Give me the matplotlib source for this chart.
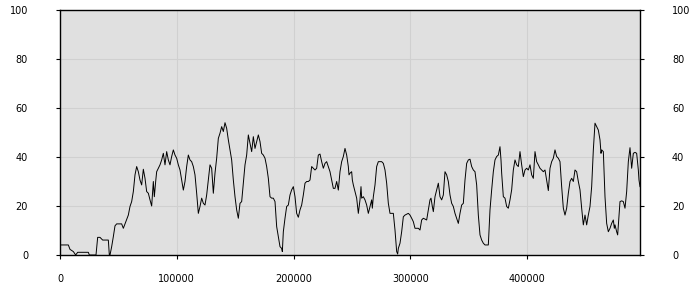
import numpy as np
import matplotlib
matplotlib.use("Agg")
import matplotlib.pyplot as plt

# positions (bp) and values
pos = [0, 7135, 8562, 11416, 13414, 15126, 24259, 25115, 30823, 32250, 34248, 36530,
       41383, 42239, 42810, 44237, 45664, 47091, 48518, 52799, 54226, 55653, 57080,
       58507, 59934, 61361, 62788, 64215, 65642, 67069, 68496, 69923, 71350, 72777,
       74204, 75631, 77058, 78485, 79912, 80768, 81910, 82766, 84193, 85620, 87047,
       88474, 89901, 91328, 92755, 94182, 95609, 97036, 98463, 99890, 101317, 102744,
       104171, 105598, 107025, 108452, 109879, 111306, 112733, 114160, 115587, 117014,
       118441, 119868, 121295, 122722, 124149,
       125576, 127003, 128430, 129857, 131284, 132711, 134138, 135565, 136992, 138419,
       139846, 141273, 142700, 144127, 145554, 146981, 148408, 149835, 151262, 152689,
       154116, 155543, 156970, 158397, 159824, 161251, 162678, 164105, 165532, 166959,
       168386, 169813, 171240, 172667, 174094, 175521, 176948, 178375, 179802, 181229,
       182656, 184083, 185510, 186937, 188364, 189791, 190362, 191218, 192645, 194072,
       195499, 196926, 198353, 199780, 201207, 202634, 204061, 205488, 206915, 208342,
       209769, 211196, 212623, 214050, 215477, 216904, 218331, 219758, 221185, 222612,
       224039, 225466, 226893, 228320, 229747, 231174, 232601, 234028,
       235455, 236882, 238309, 239736, 241163, 242590, 244017, 245444, 246871, 247442,
       248298, 249725, 250296, 251152, 252579, 254006, 255433, 256860, 257716, 258287,
       259714, 261141, 262568, 263995, 265422, 266849, 267420, 268276, 269703, 271130,
       272557, 275411, 276838, 278265, 279692, 281119, 282546, 285400, 286827, 288254,
       289110, 289681, 291108, 292535, 293962, 295389, 298243, 299670, 301097, 302524,
       303951, 306805, 308232, 309659, 311086, 313940, 315367, 316794, 317650, 318792,
       319648, 321075, 322502, 323929, 325356, 326783, 328210, 329637, 331064, 332491,
       333918, 335345, 336772, 338199, 339626, 341053, 342480, 343907, 345334, 346761,
       348188, 349615, 351042, 352469, 353896,
       355323, 356750, 358177, 359604, 361031, 362458, 363885, 366739, 367310, 368166,
       369593, 371020, 372447, 373874, 375301, 376728, 377584, 378155, 379582, 381009,
       382436, 383863, 385290, 386717, 388144, 389571, 390998, 392425, 393852, 395279,
       396706, 398133, 399560, 400987, 402414, 403841, 405268, 406695, 408122, 409549,
       410976, 412403, 413830, 415257, 416684, 418111, 419538, 420965, 422392, 423819,
       425246, 426673, 428100, 429527, 430954, 432381, 433808, 435235, 436662, 438089,
       439516, 440943, 442370, 443797, 445224, 446651, 448078, 449505, 450932, 452359,
       453786, 455213, 456640, 458067, 459494, 460921, 462348, 463204, 463775, 465202,
       466629, 468056, 469483, 470910, 472337, 473764, 474620, 475191, 476618, 477474,
       478616, 479472, 480899, 482326, 483753, 485180, 486607, 488034, 489461, 490888,
       492315, 493742, 495169, 495740, 496596]

vals = [4.1, 4.1, 2.3, 1.4, 0.0, 1.1, 1.1, 0.0, 0.0, 7.2, 7.2, 6.1,
        6.1, 0.0, 0.0, 3.4, 7.5, 11.9, 12.7, 12.7, 10.9, 12.7, 14.6,
        16.3, 19.8, 21.8, 25.9, 32.7, 36.1, 34.0, 30.6, 28.6, 35.0, 31.3,
        25.9, 25.2, 22.5, 20.0, 30.0, 23.8, 30.0, 34.0, 35.4, 36.8, 38.8,
        41.5, 36.8, 42.2, 38.8, 36.8, 40.2, 42.9, 40.8, 39.5, 36.8, 34.7,
        30.6, 26.5, 30.0, 36.1, 40.8, 38.8, 38.1, 36.1, 32.7, 25.2,
        17.0, 19.8, 23.2, 21.1, 20.4,
        24.5, 30.6, 36.8, 35.4, 25.2, 33.4, 39.5, 47.6, 49.7, 52.4,
        50.4, 54.0, 51.7, 47.0, 42.9, 38.8, 30.6, 23.8, 18.4, 15.0,
        21.1, 21.8, 29.3, 36.8, 40.8, 49.0, 45.6, 42.2, 48.3, 43.5,
        46.3, 49.0, 46.3, 41.5, 40.8, 39.5, 36.1, 31.3, 23.8, 23.2,
        23.2, 21.8, 11.6, 7.5, 3.4, 2.7, 1.4, 9.5, 15.0, 19.8,
        20.4, 24.5, 26.6, 27.9, 23.8, 17.0, 15.4, 18.4, 20.4, 24.5,
        29.3, 30.0, 30.0, 30.6, 36.1, 35.4, 34.7, 35.4, 40.8, 41.2,
        38.1, 35.4, 37.4, 38.1, 36.1, 34.0, 30.6, 27.2,
        27.2, 30.0, 26.5, 34.0, 38.1, 40.2, 43.5, 40.8, 36.1, 32.7,
        33.4, 34.0, 30.6, 28.6, 25.9, 23.2, 17.0, 22.5, 27.9, 23.2,
        23.8, 22.5, 20.4, 17.0, 19.8, 22.5, 19.1, 23.8, 28.6, 36.1,
        38.1, 38.1, 37.4, 34.7, 29.3, 21.1, 17.0, 17.0, 10.2, 1.4,
        0.4, 2.7, 4.8, 9.5, 15.6, 16.3, 17.0, 16.3, 15.0, 13.6,
        10.9, 10.9, 10.2, 14.3, 15.0, 14.3, 18.4, 22.5, 23.2, 19.8,
        17.7, 23.8, 26.6, 29.3, 23.8, 22.5, 24.5, 34.0, 32.7, 30.0,
        24.5, 21.1, 19.8, 17.0, 15.0, 12.9, 17.0, 20.4, 21.1, 30.6,
        37.4, 38.8, 39.1, 36.1, 34.7,
        34.0, 28.6, 16.3, 8.2, 6.1, 4.8, 4.1, 4.1, 10.2, 18.4,
        26.6, 34.0, 38.8, 40.2, 40.8, 44.2, 38.8, 33.4, 23.8, 23.2,
        19.8, 19.1, 22.5, 26.6, 34.7, 38.8, 36.8, 36.1, 42.2, 36.8,
        32.0, 34.7, 35.4, 34.7, 36.8, 32.7, 31.3, 42.2, 38.1, 36.8,
        35.4, 34.7, 34.0, 34.7, 30.6, 26.3, 35.4, 38.1, 39.5, 42.9,
        40.2, 39.5, 38.1, 27.9, 19.1, 16.3, 19.1, 25.2, 30.0, 31.3,
        30.0, 34.7, 34.0, 30.0, 26.6, 19.1, 12.3, 16.3, 12.3, 16.3,
        19.8, 27.9, 42.9, 53.8, 52.4, 51.0, 47.0, 41.5, 42.9, 42.2,
        23.8, 12.9, 9.5, 10.9, 12.9, 14.3, 10.9, 12.3, 9.5, 8.2,
        16.3, 21.8, 22.1, 21.8, 19.1, 25.9, 38.1, 43.8, 35.4, 41.5,
        41.9, 41.5, 34.7, 30.6, 27.9]

xticks = [0, 100000, 200000, 300000, 400000]
yticks = [0, 20, 40, 60, 80, 100]

fig = plt.figure(figsize=(7, 3), dpi=100)
ax = fig.add_axes([60/700, 45/300, 580/700, 245/300])
ax.set_facecolor('#e0e0e0')
ax.plot(pos, vals, color='black', lw=0.7)

ax.set_xlim(0, 496600)
ax.set_ylim(0, 100)
ax.set_xticks(xticks)
ax.set_xticklabels([str(t) for t in xticks])
ax.set_yticks(yticks)
ax.grid(True, color='#d0d0d0', lw=0.8)
ax.set_axisbelow(True)
ax.tick_params(axis='y', left=True, right=True, labelleft=True, labelright=True,
               length=3, pad=20, labelsize=7, direction='out')
ax.tick_params(axis='x', length=3, pad=11, labelsize=7, direction='out')
for s in ax.spines.values():
    s.set_color('black')
    s.set_linewidth(1)

fig.savefig('out.png')
